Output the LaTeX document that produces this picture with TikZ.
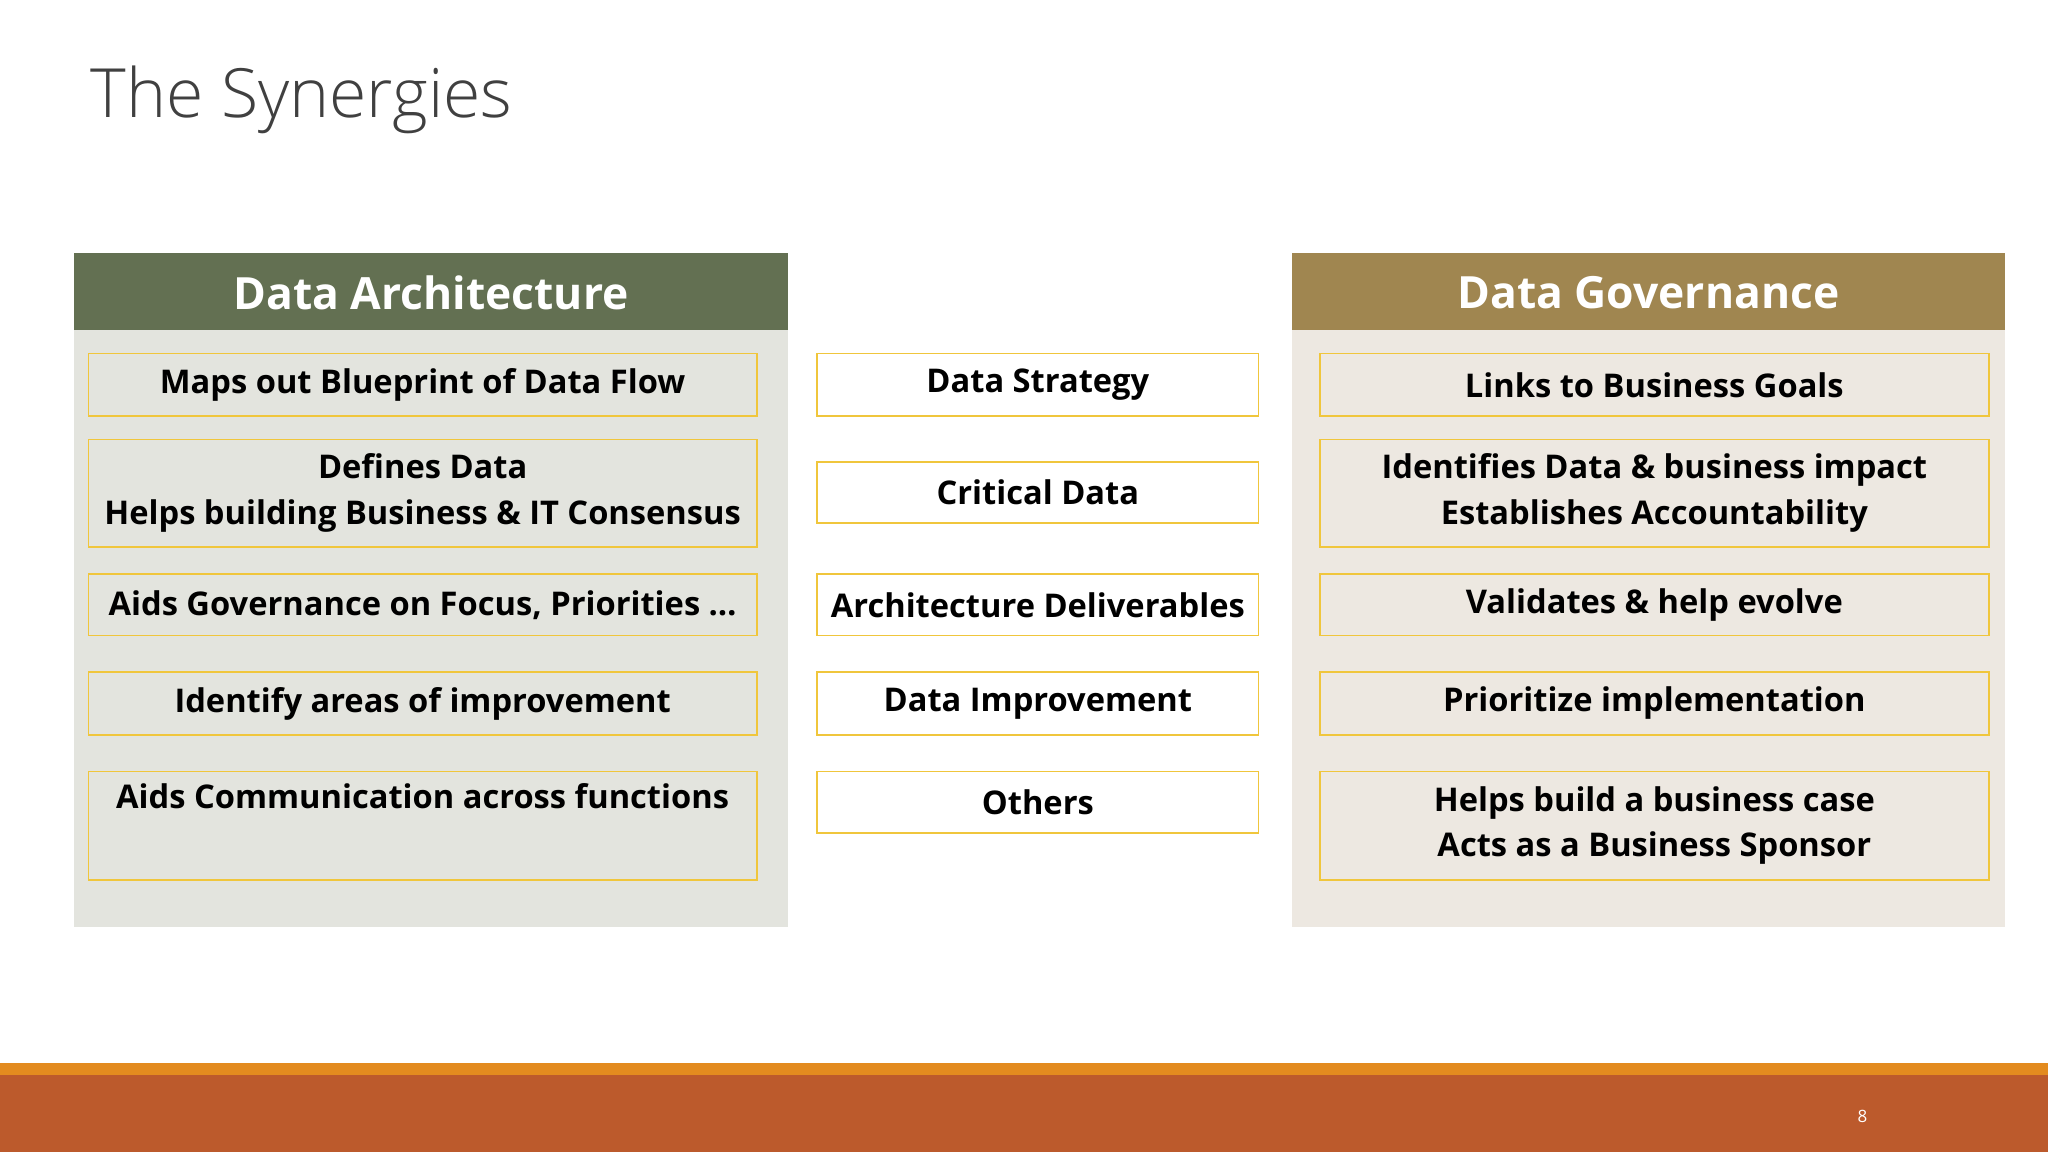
\documentclass[tikz,border=0pt]{standalone}
\usepackage{fontspec}
\setmainfont{Open Sans}
\newfontfamily\lightfont{Open Sans Light}
\definecolor{dagreen}{HTML}{637052}
\definecolor{dabody}{HTML}{E3E4DE}
\definecolor{dgbrown}{HTML}{A08650}
\definecolor{dgbody}{HTML}{EDE8E1}
\definecolor{boxline}{HTML}{F0C63C}
\definecolor{barorange}{HTML}{E38B1F}
\definecolor{barrust}{HTML}{BC5A2C}
\definecolor{titlegray}{HTML}{404040}
\tikzset{
 cell/.style={draw=boxline,line width=1.2pt,anchor=north west,align=center,inner sep=0pt,
   font=\fontsize{25}{35}\selectfont\bfseries,text=black},
 hdr/.style={anchor=center,font=\fontsize{34}{40}\selectfont\bfseries,text=white}
}
\begin{document}
\begin{tikzpicture}[x=1pt,y=1pt]
\useasboundingbox (0,0) rectangle (1568,-882);
\fill[white] (0,0) rectangle (1568,-882);
\node[anchor=base west,font=\fontsize{52}{60}\lightfont,text=titlegray] (title) at (66,-90) {The Synergies};
% panels
\fill[dabody] (57,-194) rectangle (603,-710);
\fill[dagreen] (57,-194) rectangle (603,-253);
\node[hdr] (ha) at (330,-224) {Data Architecture};
\fill[dgbody] (989,-194) rectangle (1535,-710);
\fill[dgbrown] (989,-194) rectangle (1535,-253);
\node[hdr] (hg) at (1262,-224) {Data Governance};
% left
\node[cell,minimum width=512pt,minimum height=48pt] (l1) at (67,-270) {Maps out Blueprint of Data Flow};
\node[cell,minimum width=512pt,minimum height=82pt] (l2) at (67,-336) {Defines Data\\Helps building Business \& IT Consensus};
\node[cell,minimum width=512pt,minimum height=47pt] (l3) at (67,-439) {Aids Governance on Focus, Priorities …};
\node[cell,minimum width=512pt,minimum height=48pt] (l4) at (67,-514) {Identify areas of improvement};
\node[cell,minimum width=512pt,minimum height=83pt] (l5) at (67,-590) {Aids Communication across functions\\\strut};
% middle
\node[cell,fill=white,minimum width=338pt,minimum height=48pt] (m1) at (625,-270) {Data Strategy};
\node[cell,fill=white,minimum width=338pt,minimum height=47pt] (m2) at (625,-353) {Critical Data};
\node[cell,fill=white,minimum width=338pt,minimum height=47pt] (m3) at (625,-439) {Architecture Deliverables};
\node[cell,fill=white,minimum width=338pt,minimum height=48pt] (m4) at (625,-514) {Data Improvement};
\node[cell,fill=white,minimum width=338pt,minimum height=47pt] (m5) at (625,-590) {Others};
% right
\node[cell,minimum width=512pt,minimum height=48pt] (r1) at (1010,-270) {Links to Business Goals};
\node[cell,minimum width=512pt,minimum height=82pt] (r2) at (1010,-336) {Identifies Data \& business impact\\Establishes Accountability};
\node[cell,minimum width=512pt,minimum height=47pt] (r3) at (1010,-439) {Validates \& help evolve};
\node[cell,minimum width=512pt,minimum height=48pt] (r4) at (1010,-514) {Prioritize implementation};
\node[cell,minimum width=512pt,minimum height=83pt] (r5) at (1010,-590) {Helps build a business case\\Acts as a Business Sponsor};
% bottom bar
\fill[barorange] (0,-814) rectangle (1568,-823);
\fill[barrust] (0,-823) rectangle (1568,-882);
\node[text=white,font=\fontsize{13}{15}\selectfont] (pg) at (1426,-855) {8};
\end{tikzpicture}
\end{document}
